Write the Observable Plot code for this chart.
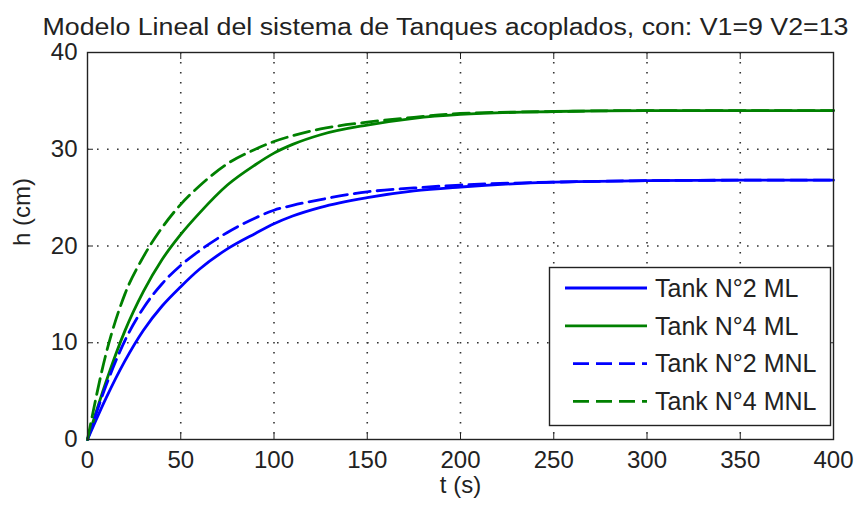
<!DOCTYPE html>
<html>
<head>
<meta charset="utf-8">
<script src="https://cdn.jsdelivr.net/npm/d3@7"></script>
<script src="https://cdn.jsdelivr.net/npm/@observablehq/plot@0.6"></script>
<style>
  html, body { margin: 0; padding: 0; background: #fff; }
  #chart { width: 854px; height: 510px; }
</style>
</head>
<body>
<div id="chart"></div>
<script>
// Step responses of the coupled-tank system: linear (ML) vs nonlinear (MNL) model
const title = "Modelo Lineal del sistema de Tanques acoplados, con: V1=9 V2=13";
const xLabel = "t (s)";
const yLabel = "h (cm)";

const seriesNames = ["Tank N°2 ML", "Tank N°4 ML", "Tank N°2 MNL", "Tank N°4 MNL"];
const seriesColors = ["#0000ff", "#008000", "#0000ff", "#008000"];
const seriesDashed = [false, false, true, true];

const time  = [0, 10, 20, 30, 40, 50, 60, 75, 90, 100, 110, 125, 150, 175, 200, 250, 300, 350, 400];
const h2ML  = [0, 4.3, 8.1, 11.3, 13.8, 15.8, 17.6, 19.7, 21.3, 22.3, 23.1, 24.0, 25.0, 25.7, 26.1, 26.6, 26.75, 26.8, 26.8];
const h4ML  = [0, 6.0, 11.2, 15.3, 18.6, 21.2, 23.4, 26.3, 28.4, 29.6, 30.5, 31.5, 32.5, 33.2, 33.6, 33.9, 34.0, 34.0, 34.0];
const h2MNL = [0, 5.6, 10.2, 13.6, 16.1, 18.0, 19.5, 21.4, 22.9, 23.7, 24.2, 24.8, 25.6, 26.0, 26.3, 26.6, 26.75, 26.8, 26.8];
const h4MNL = [0, 8.9, 15.0, 18.9, 21.9, 24.3, 26.2, 28.5, 30.0, 30.8, 31.4, 32.1, 32.8, 33.3, 33.7, 33.9, 34.0, 34.0, 34.0];

const xTicks = [0, 50, 100, 150, 200, 250, 300, 350, 400];
const yTicks = [0, 10, 20, 30, 40];

const seriesValues = [h2ML, h4ML, h2MNL, h4MNL];
const rows = seriesNames.flatMap((name, k) =>
  time.map((t, i) => ({t, h: seriesValues[k][i], name}))
);

const ink = "#222";
const fontFamily = "'Liberation Sans', Arial, sans-serif";

const lineMarks = seriesNames.map((name, k) =>
  Plot.line(rows.filter(d => d.name === name), {
    x: "t", y: "h",
    stroke: seriesColors[k],
    strokeWidth: 2.8,
    strokeDasharray: seriesDashed[k] ? "16,7" : null,
    curve: "monotone-x"
  })
);

const gridStyle = {stroke: "#333", strokeOpacity: 1, strokeWidth: 1.6, strokeDasharray: "1.6,8.4"};

const chart = Plot.plot({
  width: 854,
  height: 510,
  marginLeft: 87,
  marginRight: 21,
  marginTop: 52,
  marginBottom: 71,
  x: {domain: [0, 400]},
  y: {domain: [0, 40]},
  style: {fontFamily, fontSize: "24px", color: ink, background: "#fff"},
  marks: [
    Plot.gridX(xTicks.slice(1, -1), gridStyle),
    Plot.gridY(yTicks.slice(1, -1), gridStyle),
    ...lineMarks,
    Plot.frame({stroke: ink, strokeWidth: 1.4}),
    Plot.axisX(xTicks, {anchor: "bottom", tickSize: -6, tickPadding: 17, label: null, fontSize: 24}),
    Plot.axisX(xTicks, {anchor: "top", tickSize: -6, tickFormat: () => "", label: null}),
    Plot.axisY(yTicks, {anchor: "left", tickSize: -6, tickPadding: 16, label: null, fontSize: 24}),
    Plot.axisY(yTicks, {anchor: "right", tickSize: -6, tickFormat: () => "", label: null}),
    Plot.text([xLabel], {frameAnchor: "bottom", dy: 53, fontSize: 24, fill: ink}),
    Plot.text([yLabel], {frameAnchor: "left", dx: -65, rotate: -90, fontSize: 24, fill: ink}),
    Plot.text([title], {frameAnchor: "top", dy: -34, dx: -15, fontSize: 23, fill: ink})
  ]
});

document.getElementById("chart").append(chart);

const svg = d3.select(chart);

// fit the title to its width
svg.selectAll("text")
  .filter(function () { return this.textContent === title; })
  .attr("textLength", 806)
  .attr("lengthAdjust", "spacingAndGlyphs");

// legend box in the lower right of the axes
const legend = svg.append("g")
  .attr("font-family", fontFamily)
  .attr("font-size", 25)
  .attr("text-anchor", "start");
legend.append("rect")
  .attr("x", 549.5).attr("y", 267.5)
  .attr("width", 281).attr("height", 158)
  .attr("fill", "#fff").attr("stroke", ink).attr("stroke-width", 1.4);

seriesNames.forEach((name, k) => {
  const cy = 288 + k * 37.8;
  legend.append("line")
    .attr("x1", seriesDashed[k] ? 573 : 565).attr("x2", 647)
    .attr("y1", cy).attr("y2", cy)
    .attr("stroke", seriesColors[k]).attr("stroke-width", 2.8)
    .attr("stroke-dasharray", seriesDashed[k] ? "16,7" : null);
  legend.append("text")
    .attr("x", 655).attr("y", cy)
    .attr("dy", "0.35em")
    .attr("text-anchor", "start")
    .attr("fill", ink)
    .text(name);
});
</script>
</body>
</html>
